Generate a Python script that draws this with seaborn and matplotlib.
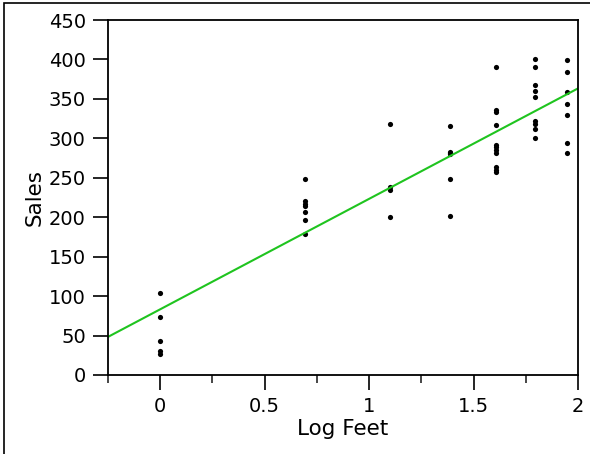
import pandas as pd
import matplotlib.pyplot as plt
from matplotlib.patches import Rectangle
from matplotlib.ticker import MultipleLocator
import seaborn as sns

# shelf feet 1..7, shown as natural log
log_feet = [0.0, 0.693, 1.099, 1.386, 1.609, 1.792, 1.946]
sales_per_group = [
    [104, 74, 43, 30, 27],
    [248, 221, 217, 214, 206, 197, 179],
    [318, 238, 235, 200],
    [316, 283, 281, 280, 249, 202],
    [391, 336, 333, 317, 292, 289, 285, 281, 264, 260, 257],
    [401, 390, 367, 360, 353, 322, 318, 312, 301],
    [399, 384, 359, 344, 330, 294, 282],
]
x_ticks = [0, 0.5, 1, 1.5, 2]
x_tick_labels = ['0', '0.5', '1', '1.5', '2']
y_ticks = list(range(0, 451, 50))

rows = []
for lf, grp in zip(log_feet, sales_per_group):
    for s in grp:
        rows.append({'Log Feet': lf, 'Sales': s})
df = pd.DataFrame(rows)

sns.set_style('ticks')
plt.rcParams['font.family'] = ['DejaVu Sans']

fig = plt.figure(figsize=(5.9, 4.54), dpi=100)
ax = fig.add_axes([108 / 590, 1 - 375 / 454, 470 / 590, 355 / 454])
ax.set_xlim(-0.25, 2)
ax.set_ylim(0, 450)

sns.regplot(data=df, x='Log Feet', y='Sales', ax=ax, ci=None, truncate=False,
            scatter_kws={'s': 14, 'color': 'black', 'alpha': 1, 'linewidths': 0},
            line_kws={'color': '#1fc41f', 'linewidth': 1.5})

ax.set_xlim(-0.25, 2)
ax.set_ylim(0, 450)
ax.set_xticks(x_ticks)
ax.set_xticklabels(x_tick_labels)
ax.xaxis.set_minor_locator(MultipleLocator(0.25))
ax.set_yticks(y_ticks)
ax.tick_params(axis='both', which='major', labelsize=14, length=11, width=1.2,
               color='black', labelcolor='black', direction='out', pad=5)
ax.tick_params(axis='x', which='minor', length=6, width=1.2, direction='out')
ax.set_xlabel('Log Feet', fontsize=15.5, color='black')
ax.set_ylabel('Sales', fontsize=15.5, color='black')
ax.xaxis.set_label_coords(0.5, -0.125)
ax.yaxis.set_label_coords(-0.134, 0.5)
for sp in ax.spines.values():
    sp.set_visible(True)
    sp.set_color('black')
    sp.set_linewidth(1.3)

# outer frame around the whole panel
fig.patches.append(Rectangle((4 / 590, -0.01), 1.0, 1 - 3 / 454 + 0.01,
                             transform=fig.transFigure, fill=False,
                             edgecolor='black', linewidth=1.2))

fig.savefig('out.png', dpi=100)
